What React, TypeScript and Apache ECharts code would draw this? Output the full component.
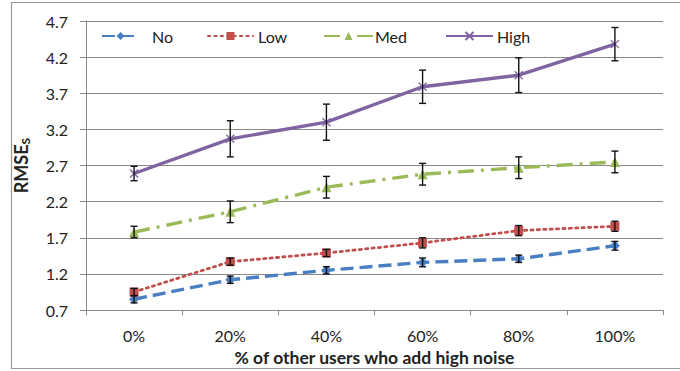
import React, { useEffect, useRef } from "react";
import * as echarts from "echarts";

// Share of other users adding high noise
const categories = ["0%", "20%", "40%", "60%", "80%", "100%"];

// Mean RMSE_S per noise level of the user
const noValues = [0.85, 1.12, 1.25, 1.36, 1.41, 1.59];
const lowValues = [0.95, 1.37, 1.49, 1.63, 1.8, 1.86];
const medValues = [1.78, 2.06, 2.4, 2.58, 2.67, 2.75];
const highValues = [2.59, 3.07, 3.3, 3.79, 3.95, 4.38];

// Half-widths of the error bars
const noErr = [0.05, 0.05, 0.05, 0.06, 0.05, 0.06];
const lowErr = [0.05, 0.05, 0.05, 0.07, 0.07, 0.07];
const medErr = [0.08, 0.15, 0.15, 0.15, 0.15, 0.15];
const highErr = [0.1, 0.25, 0.25, 0.23, 0.24, 0.23];

// Y-axis tick labels
const yTicks = [0.7, 1.2, 1.7, 2.2, 2.7, 3.2, 3.7, 4.2, 4.7];

const FONT = "Lato, 'Open Sans', sans-serif";

const errorData = (vals: number[], errs: number[]) =>
  vals.map((v, i) => [i, v - errs[i], v + errs[i]]);

const errorSeries = (name: string, vals: number[], errs: number[]) => ({
  type: "custom",
  name: name + "-err",
  data: errorData(vals, errs),
  z: 10,
  silent: true,
  renderItem: (params: any, api: any) => {
    const x = api.value(0);
    const lo = api.coord([x, api.value(1)]);
    const hi = api.coord([x, api.value(2)]);
    const cap = 3.5;
    const style = { stroke: "#111", lineWidth: 1.4 };
    return {
      type: "group",
      children: [
        { type: "line", shape: { x1: lo[0], y1: lo[1], x2: hi[0], y2: hi[1] }, style },
        { type: "line", shape: { x1: lo[0] - cap, y1: lo[1], x2: lo[0] + cap, y2: lo[1] }, style },
        { type: "line", shape: { x1: hi[0] - cap, y1: hi[1], x2: hi[0] + cap, y2: hi[1] }, style },
      ],
    };
  },
});

const BLUE = "#4A7EC3";
const RED = "#C0504D";
const GREEN = "#9BBB59";
const PURPLE = "#8064A2";

export default function App() {
  const ref = useRef<HTMLDivElement>(null);

  useEffect(() => {
    if (!ref.current) return;
    const chart = echarts.init(ref.current, null, { renderer: "svg" });

    const legendText = { fontFamily: FONT, fontSize: 16, color: "#222" };
    const legendBase = { top: 23, itemHeight: 10 };

    chart.setOption({
      animation: false,
      backgroundColor: "#fff",
      textStyle: { fontFamily: FONT },
      grid: { left: 86, right: 17, top: 21, bottom: 58 },
      legend: [
        { ...legendBase, left: 96, itemWidth: 37, data: ["No"], textStyle: { ...legendText, padding: [0, 0, 0, 8] } },
        { ...legendBase, left: 202, itemWidth: 45, data: ["Low"], textStyle: { ...legendText, padding: [0, 0, 0, 0] } },
        { ...legendBase, left: 318, itemWidth: 49, data: ["Med"], textStyle: { ...legendText, padding: [0, 0, 0, -3] } },
        { ...legendBase, left: 440, itemWidth: 47, data: ["High"], textStyle: { ...legendText, padding: [0, 0, 0, -1] } },
      ],
      xAxis: {
        type: "category",
        data: categories,
        boundaryGap: true,
        name: "% of other users who add high noise",
        nameLocation: "middle",
        nameGap: 28,
        nameTextStyle: { fontFamily: FONT, fontSize: 17.5, fontWeight: "bold", color: "#222" },
        axisLine: { lineStyle: { color: "#8a8a8a", width: 1 } },
        axisTick: { show: true, length: 5, interval: 0, lineStyle: { color: "#8a8a8a" } },
        axisLabel: { fontSize: 16, color: "#222", margin: 17, fontFamily: FONT },
      },
      yAxis: {
        type: "value",
        min: 0.7,
        max: 4.7,
        name: "RMSE{sub|S}",
        nameLocation: "middle",
        nameRotate: 90,
        nameGap: 55,
        nameTextStyle: {
          fontFamily: FONT,
          fontSize: 18,
          fontWeight: "bold",
          color: "#222",
          rich: {
            sub: { fontFamily: FONT, fontSize: 12, fontWeight: "bold", color: "#222", verticalAlign: "bottom", padding: [9, 0, 0, 0] },
          },
        },
        axisLine: { show: true, lineStyle: { color: "#8a8a8a", width: 1 } },
        axisTick: { show: true, length: 6, customValues: yTicks, lineStyle: { color: "#8a8a8a" } },
        axisLabel: {
          customValues: yTicks,
          fontSize: 16,
          color: "#222",
          margin: 18,
          fontFamily: FONT,
          formatter: (v: number) => v.toFixed(1),
        },
        splitLine: { show: true, lineStyle: { color: "#8a8a8a", width: 1 } },
      },
      series: [
        {
          type: "line",
          name: "No",
          data: noValues,
          symbol: "diamond",
          symbolSize: 10,
          itemStyle: { color: BLUE },
          lineStyle: { color: BLUE, width: 3.4, type: [13, 6] },
          z: 3,
        },
        {
          type: "line",
          name: "Low",
          data: lowValues,
          symbol: "rect",
          symbolSize: 9,
          itemStyle: { color: RED },
          lineStyle: { color: RED, width: 2.8, type: [2.2, 4.2], cap: "round" },
          z: 3,
        },
        {
          type: "line",
          name: "Med",
          data: medValues,
          symbol: "triangle",
          symbolSize: 10,
          itemStyle: { color: GREEN },
          lineStyle: { color: GREEN, width: 3.4, type: [16, 7, 3, 7] },
          z: 3,
        },
        {
          type: "line",
          name: "High",
          data: highValues,
          symbol: "path://M0,0L10,10M10,0L0,10",
          symbolSize: 8,
          itemStyle: { color: "none", borderColor: PURPLE, borderWidth: 1.3 },
          lineStyle: { color: PURPLE, width: 3.4 },
          z: 3,
        },
        errorSeries("No", noValues, noErr),
        errorSeries("Low", lowValues, lowErr),
        errorSeries("Med", medValues, medErr),
        errorSeries("High", highValues, highErr),
      ],
      graphic: [
        {
          type: "rect",
          shape: { x: 11.5, y: 2.5, width: 700, height: 366 },
          style: { fill: "none", stroke: "#9a9a9a", lineWidth: 1.2 },
          z: -10,
          silent: true,
        },
      ],
    });

    return () => chart.dispose();
  }, []);

  return (
    <div
      ref={ref}
      style={{ position: "absolute", left: 0, top: 0, width: 680, height: 371 }}
    />
  );
}
